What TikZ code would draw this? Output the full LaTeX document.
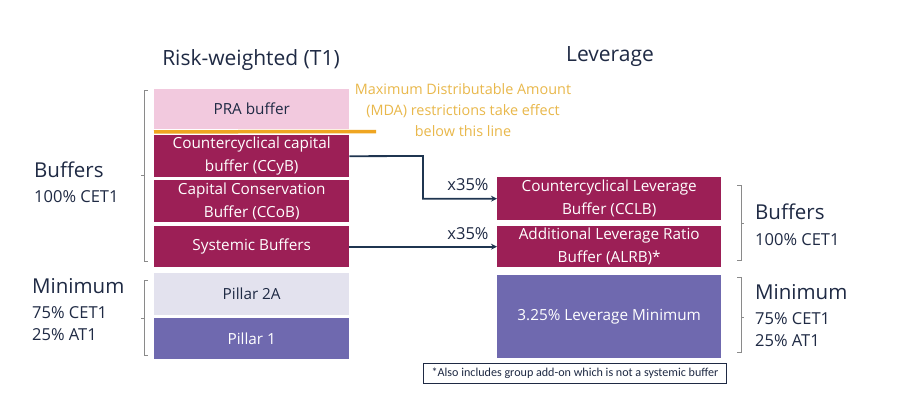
\documentclass[tikz,border=0pt]{standalone}
\usepackage{fontspec}
\setmainfont{Open Sans}
\newfontfamily\footfont{Carlito}
\usetikzlibrary{arrows.meta}
\definecolor{navy}{HTML}{1F2A44}
\definecolor{arrowc}{HTML}{1F3550}
\definecolor{prapink}{HTML}{F2C9DE}
\definecolor{magenta}{HTML}{9C1F56}
\definecolor{lilac}{HTML}{E3E2EE}
\definecolor{purp}{HTML}{6F69AF}
\definecolor{mdaorange}{HTML}{E9B84B}
\definecolor{orangeline}{HTML}{EFA521}
\definecolor{brk}{HTML}{8A8A8A}
\begin{document}
\begin{tikzpicture}[x=1pt,y=-1pt,
  box/.style={anchor=north west, inner sep=0pt, align=center, font=\fontsize{15.3}{23}\selectfont},
  magbox/.style={box, fill=magenta, text=white},
  lbl/.style={anchor=west, text=navy, inner sep=0pt},
  big/.style={font=\fontsize{20.5}{24}\selectfont},
  small/.style={font=\fontsize{16.5}{20}\selectfont},
  title/.style={text=navy, inner sep=0pt, font=\fontsize{21}{24}\selectfont},
  brack/.style={draw=brk, line width=0.8pt},
  arr/.style={draw=arrowc, line width=1.8pt, -{Stealth[length=6pt,width=6pt]}}
]
\useasboundingbox (0,0) rectangle (902,415);
\fill[white] (0,0) rectangle (902,415);

% titles
\node[title] (tRW) at (251,60) {Risk-weighted (T1)};
\node[title] (tLev) at (610,57) {Leverage};

% left column
\node[box, fill=prapink, text=navy, minimum width=195pt, minimum height=40pt] (pra) at (154,89) {PRA buffer};
\node[magbox, minimum width=195pt, minimum height=42pt] (ccyb) at (154,135) {Countercyclical capital\\buffer (CCyB)};
\node[magbox, minimum width=195pt, minimum height=42pt] (ccob) at (154,180) {Capital Conservation\\Buffer (CCoB)};
\node[magbox, minimum width=195pt, minimum height=41pt] (sys) at (154,226) {Systemic Buffers};
\node[box, fill=lilac, text=navy, minimum width=195pt, minimum height=42pt] (p2a) at (154,273) {Pillar 2A};
\node[box, fill=purp, text=white, minimum width=195pt, minimum height=41pt] (p1) at (154,318) {Pillar 1};

% MDA line and text
\coordinate (mdaend) at (376,131.5);
\draw[orangeline, line width=3.5pt] (pra.south west) ++(0,2.5) -- (mdaend);
\node[text=mdaorange, align=center, inner sep=0pt, font=\fontsize{14.4}{21}\selectfont] (mda) at (463,110) {Maximum Distributable Amount\\(MDA) restrictions take effect\\below this line};

% right column
\node[magbox, minimum width=224pt, minimum height=43pt] (cclb) at (497,177) {Countercyclical Leverage\\Buffer (CCLB)};
\node[magbox, minimum width=224pt, minimum height=41pt] (alrb) at (497,226) {Additional Leverage Ratio\\Buffer (ALRB)*};
\node[box, fill=purp, text=white, minimum width=224pt, minimum height=83pt] (levmin) at (497,275) {3.25\% Leverage Minimum};

% arrows
\draw[arr] (ccyb.east) -- (423,156) |- (cclb.west);
\draw[arr] (sys.east) -- (alrb.west);
\node[text=navy, inner sep=0pt, font=\fontsize{16.5}{20}\selectfont] (x1) at (468,185) {x35\%};
\node[text=navy, inner sep=0pt, font=\fontsize{16.5}{20}\selectfont] (x2) at (468,234) {x35\%};

% footnote
\node[draw=navy, line width=1.2pt, anchor=north west, minimum width=303pt, minimum height=20pt, inner sep=0pt, text=navy, font=\footfont\fontsize{12.1}{14}\selectfont] (foot) at (423,363) {*Also includes group add-on which is not a systemic buffer};

% left labels
\node[lbl, big] (lbuf) at (34,170) {Buffers};
\node[lbl, small] (lbufp) at (34,197) {100\% CET1};
\node[lbl, big] (lmin) at (32,286) {Minimum};
\node[lbl, small] (lmin1) at (32,313) {75\% CET1};
\node[lbl, small] (lmin2) at (32,335) {25\% AT1};

% right labels
\node[lbl, big] (rbuf) at (755,212) {Buffers};
\node[lbl, small] (rbufp) at (755,240) {100\% CET1};
\node[lbl, big] (rmin) at (755,292) {Minimum};
\node[lbl, small] (rmin1) at (755,319) {75\% CET1};
\node[lbl, small] (rmin2) at (755,341) {25\% AT1};

% brackets
\draw[brack] (148,90) -- (144,90) -- (144,261) -- (148,261);
\draw[brack] (144,175) -- (141,175);
\draw[brack] (148,280) -- (144,280) -- (144,355) -- (148,355);
\draw[brack] (144,318) -- (141,318);
\draw[brack] (737,185) -- (741,185) -- (741,260) -- (737,260);
\draw[brack] (741,223) -- (744,223);
\draw[brack] (737,277) -- (741,277) -- (741,352) -- (737,352);
\draw[brack] (741,317) -- (744,317);
\end{tikzpicture}
\end{document}
